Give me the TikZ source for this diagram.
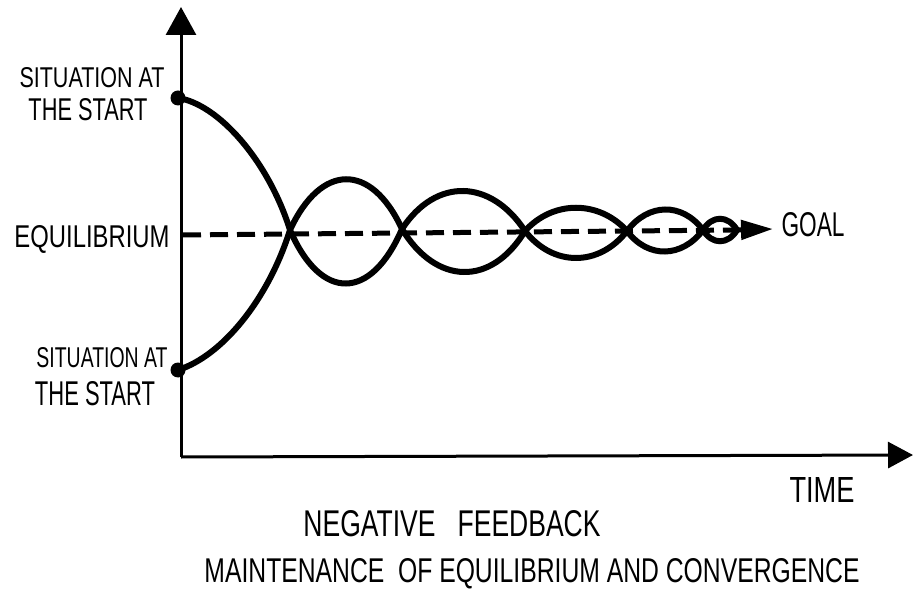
\documentclass[tikz,border=0pt]{standalone}
\usepackage{fontspec}
\setmainfont{Liberation Sans}
\usepackage{graphicx}
\usetikzlibrary{arrows.meta}
\newcommand{\fitbox}[3]{\resizebox{#1pt}{#2pt}{#3}}
\begin{document}
\begin{tikzpicture}[x=1pt,y=-1pt,
  curve/.style={line width=6pt,line cap=round},
  axisline/.style={line width=3pt},
  eqline/.style={line width=5pt,dash pattern=on 18pt off 9pt},
  lbl/.style={inner sep=0pt},
  dot/.style={circle,fill=black,inner sep=0pt,minimum size=15pt}]
\useasboundingbox (0,0) rectangle (915,593);
% axes
\coordinate (O) at (181,457);
\coordinate (ytop) at (181,7);
\coordinate (xend) at (913,455);
\draw[axisline,-{Triangle[length=28pt,width=30pt]}] (O) -- (ytop);
\draw[axisline,-{Triangle[length=25pt,width=26pt]}] (O) -- (xend);
% equilibrium line
\coordinate (eqL) at (183,235);
\coordinate (eqR) at (738,230);
\coordinate (goaltip) at (773,229);
\draw[eqline] (eqL) -- (eqR);
\draw[line width=5pt,-{Triangle[length=32pt,width=19pt]}] (eqR) -- (goaltip);
% start points
\node[dot] (st) at (178,98) {};
\node[dot] (sb) at (178,370) {};
% crossings
\coordinate (c0) at (290,230);
\coordinate (c1) at (402,229);
\coordinate (c2) at (525,231);
\coordinate (c3) at (627,231);
\coordinate (c4) at (703,230);
\coordinate (c5) at (737,230);
% start curves
\draw[curve] (st.center) .. controls (218,104) and (268,160) .. (c0);
\draw[curve] (sb.center) .. controls (222,356) and (268,300) .. (c0);
% loops
\draw[curve] (c0) .. controls +(31,-67) and +(-31,-67) .. (c1);
\draw[curve] (c0) .. controls +(31,72) and +(-31,72) .. (c1);
\draw[curve] (c1) .. controls +(34,-52) and +(-34,-52) .. (c2);
\draw[curve] (c1) .. controls +(34,56) and +(-34,56) .. (c2);
\draw[curve] (c2) .. controls +(28,-31) and +(-28,-31) .. (c3);
\draw[curve] (c2) .. controls +(28,36) and +(-28,36) .. (c3);
\draw[curve] (c3) .. controls +(21,-28) and +(-21,-28) .. (c4);
\draw[curve] (c3) .. controls +(21,28) and +(-21,28) .. (c4);
\draw[curve] (c4) .. controls +(9,-15) and +(-9,-15) .. (c5);
\draw[curve] (c4) .. controls +(9,15) and +(-9,15) .. (c5);
% labels
\node[lbl] (sTop1) at (92,78) {\fitbox{145}{20}{SITUATION AT}};
\node[lbl] (sTop2) at (88,110) {\fitbox{119}{22}{THE START}};
\node[lbl] (sBot1) at (102,358) {\fitbox{131}{20}{SITUATION AT}};
\node[lbl] (sBot2) at (95,394) {\fitbox{120}{24}{THE START}};
\node[lbl] (eq) at (92,239) {\fitbox{155}{22}{EQUILIBRIUM}};
\node[lbl] (goal) at (813,225) {\fitbox{63}{24}{GOAL}};
\node[lbl] (time) at (822,490) {\fitbox{65}{25}{TIME}};
\node[lbl] (neg) at (452,524) {\fitbox{297}{26}{NEGATIVE\ \ \ FEEDBACK}};
\node[lbl] (maint) at (532,574) {\fitbox{655}{24}{MAINTENANCE\ \ OF EQUILIBRIUM AND CONVERGENCE}};
\end{tikzpicture}
\end{document}
